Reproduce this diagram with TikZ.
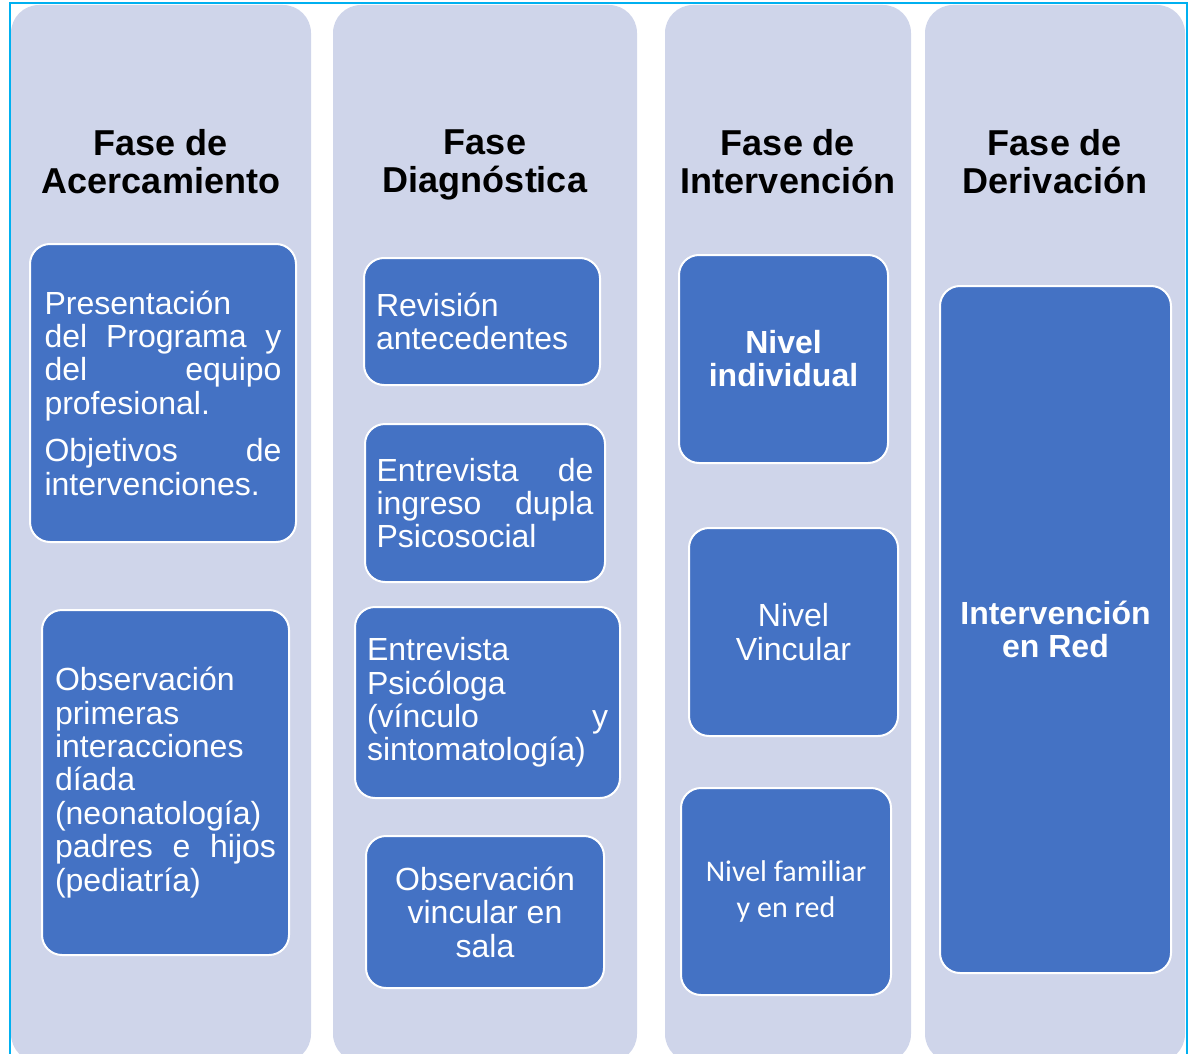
\documentclass[tikz,border=0pt]{standalone}
\usepackage{fontspec}
\setmainfont{Liberation Sans}
\newfontfamily\calibri{Carlito}
\definecolor{lavanda}{RGB}{207,213,234}
\definecolor{azul}{RGB}{68,114,196}
\definecolor{celeste}{RGB}{0,176,240}
\begin{document}
\begin{tikzpicture}
  [x=1pt, y=-1pt,
  fase/.style={
    fill=lavanda,
    rectangle,
    rounded corners=28pt,
    inner sep=0pt},
  titulo/.style={
    align=center,
    inner sep=0pt,
    font=\bfseries\fontsize{36}{38}\selectfont},
  caja/.style={
    draw=white,
    fill=azul,
    rectangle,
    rounded corners=20pt,
    line width=2pt,
    inner sep=0pt,
    text=white,
    font=\fontsize{32}{33.4}\selectfont}]

  \useasboundingbox (0,0) rectangle (1189,1054);
  \clip (0,0) rectangle (1189,1054);

  % marco
  \draw [celeste, line width=2pt] (9.5,1070) -- (9.5,3.5) -- (1187,3.5) -- (1187,1070);

  % columnas
  \node [fase, minimum width=300pt, minimum height=1057pt] at (161,533.5) (col1) {};
  \node [fase, minimum width=304pt, minimum height=1057pt] at (485,533.5) (col2) {};
  \node [fase, minimum width=246pt, minimum height=1057pt] at (788,533.5) (col3) {};
  \node [fase, minimum width=260pt, minimum height=1057pt] at (1055,533.5) (col4) {};

  \node [titulo] at (161,165) (acercamiento) {Fase de\\Acercamiento\vphantom{g}};
  \node [titulo] at (485,165) (diagnostica) {Fase\\Diagnóstica};
  \node [titulo] at (788,165) (intervencion) {Fase de\\Intervención\vphantom{g}};
  \node [titulo] at (1055,165) (derivacion) {Fase de\\Derivación\vphantom{g}};

  % fase de acercamiento
  \node [caja, minimum width=266pt, minimum height=298pt, text width=237pt, align=left]
    at (163,393) (presentacion) {
    Presentación\\
    del \hfill Programa \hfill y\\
    del \hfill equipo\\
    profesional.\\[14pt]
    Objetivos \hfill de\\
    intervenciones.
  };

  \node [caja, minimum width=247pt, minimum height=345pt, text width=221pt, align=left]
    at (165.5,782.5) (observacion) {
    Observación\\
    primeras\\
    interacciones\\
    díada\\
    (neonatología)\\
    padres \hfill e \hfill hijos\\
    (pediatría)
  };

  % fase diagnostica
  \node [caja, minimum width=236pt, minimum height=127pt, text width=212pt, align=left]
    at (482,321.5) (revision) {
    Revisión\\
    antecedentes
  };

  \node [caja, minimum width=240pt, minimum height=158pt, text width=217pt, align=left]
    at (485,503) (ingreso) {
    Entrevista \hfill de\\
    ingreso \hfill dupla\\
    Psicosocial
  };

  \node [caja, minimum width=265pt, minimum height=191pt, text width=241pt, align=left]
    at (487.5,702.5) (psicologa) {
    Entrevista\\
    Psicóloga\\
    (vínculo \hfill y\\
    sintomatología)
  };

  \node [caja, minimum width=238pt, minimum height=152pt, align=center]
    at (485,912) (sala) {
    Observación\\
    vincular en\\
    sala
  };

  % fase de intervencion
  \node [caja, minimum width=209pt, minimum height=208pt, align=center, font=\bfseries\fontsize{32}{33}\selectfont]
    at (783.5,359) (individual) {
    Nivel\\
    individual
  };

  \node [caja, minimum width=209pt, minimum height=208pt, align=center]
    at (793.5,632) (vincular) {
    Nivel\\
    Vincular
  };

  \node [caja, minimum width=210pt, minimum height=207pt, align=center, font=\calibri\fontsize{30}{36}\selectfont]
    at (786,891.5) (familiar) {
    Nivel familiar\\
    y en red
  };

  % fase de derivacion
  \node [caja, minimum width=231pt, minimum height=687pt, align=center, font=\bfseries\fontsize{32}{33}\selectfont]
    at (1055.5,629.5) (red) {
    Intervención\\
    en Red
  };
\end{tikzpicture}
\end{document}
